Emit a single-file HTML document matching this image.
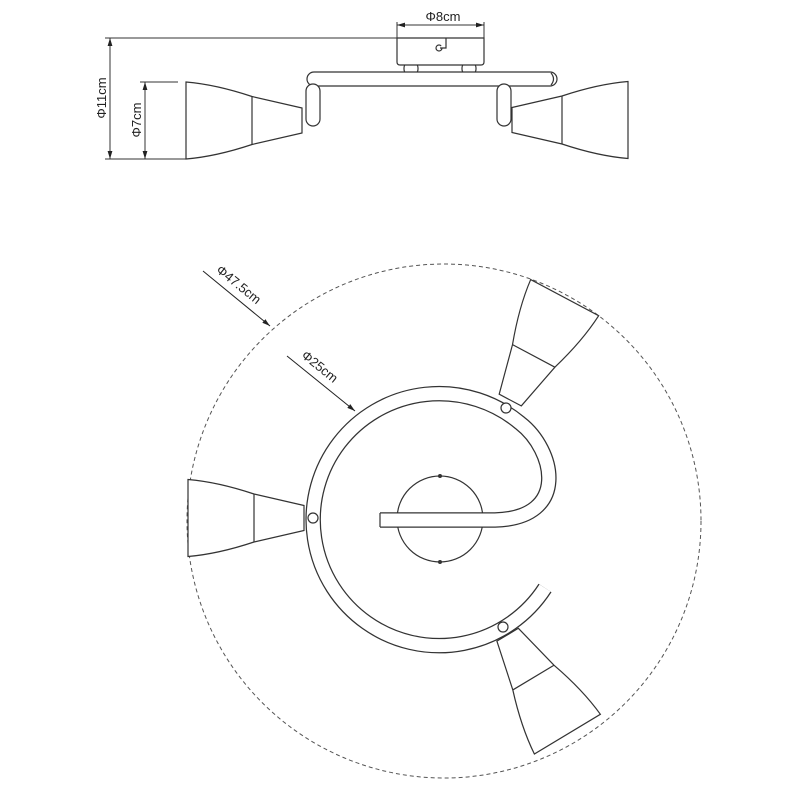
<!DOCTYPE html>
<html><head><meta charset="utf-8"><style>html,body{margin:0;padding:0;background:#fff}svg{display:block}</style></head>
<body>
<svg width="800" height="800" viewBox="0 0 800 800" xmlns="http://www.w3.org/2000/svg" font-family="Liberation Sans, sans-serif">
<defs>
<marker id="ah" viewBox="0 0 10 10" refX="10" refY="5" markerWidth="8" markerHeight="8" orient="auto-start-reverse"><path d="M0,2 L10,5 L0,8 Z" fill="#222"/></marker>
<g id="lamp" fill="#fff" stroke="#333" stroke-width="1.2">
<path d="M -9,-12.5 L -59,-24 Q -95,-36 -125,-38.5 L -125,38.5 Q -95,36 -59,24 L -9,12.5 Z"/>
<line x1="-59" y1="-24" x2="-59" y2="24"/>
</g>
</defs>

<!-- TOP VIEW -->
<g stroke="#333" stroke-width="1" fill="none">
<line x1="105" y1="38" x2="397" y2="38"/>
<line x1="105" y1="159" x2="188" y2="159"/>
<line x1="110" y1="38" x2="110" y2="159" marker-start="url(#ah)" marker-end="url(#ah)"/>
<line x1="140" y1="82" x2="178" y2="82"/>
<line x1="145" y1="82" x2="145" y2="159" marker-start="url(#ah)" marker-end="url(#ah)"/>
<line x1="397" y1="22" x2="397" y2="38"/>
<line x1="484" y1="22" x2="484" y2="38"/>
<line x1="397" y1="25" x2="484" y2="25" marker-start="url(#ah)" marker-end="url(#ah)"/>
</g>
<text x="443" y="21" font-size="13" text-anchor="middle" fill="#222">Φ8cm</text>
<text transform="translate(106,98) rotate(-90)" font-size="13" text-anchor="middle" fill="#222">Φ11cm</text>
<text transform="translate(141,120) rotate(-90)" font-size="13" text-anchor="middle" fill="#222">Φ7cm</text>

<g stroke="#333" stroke-width="1.2" fill="#fff">
<rect x="404" y="62" width="14" height="13" rx="6"/>
<rect x="462" y="62" width="14" height="13" rx="6"/>
<path d="M397,38 H484 V62 Q484,65 481,65 H400 Q397,65 397,62 Z"/>
<circle cx="439" cy="48" r="3"/>
<path d="M440,48 H446 V38"/>
<rect x="307" y="72" width="250" height="14" rx="7"/>
<path d="M551,73 Q556,79 551,85" fill="none"/>
<rect x="306" y="84" width="14" height="42" rx="7"/>
<rect x="497" y="84" width="14" height="42" rx="7"/>
</g>
<use href="#lamp" transform="translate(311,120.5)"/>
<use href="#lamp" transform="translate(503,120) scale(-1,1)"/>

<!-- BOTTOM VIEW -->
<circle cx="444" cy="521" r="257" fill="none" stroke="#555" stroke-width="1" stroke-dasharray="4,3"/>
<g stroke="#222" stroke-width="1" fill="none">
<line x1="203" y1="271" x2="270" y2="326" marker-end="url(#ah)"/>
<line x1="287" y1="356" x2="355" y2="411" marker-end="url(#ah)"/>
</g>
<text transform="translate(236,288) rotate(39)" font-size="13" text-anchor="middle" fill="#222">Φ47.5cm</text>
<text transform="translate(317,370) rotate(39)" font-size="13" text-anchor="middle" fill="#222">Φ25cm</text>

<circle cx="440" cy="519" r="43" fill="#fff" stroke="#333" stroke-width="1.2"/>
<circle cx="440" cy="476" r="2" fill="#333"/>
<circle cx="440" cy="562" r="2" fill="#333"/>

<path d="M545,588 A126,126 0 1 1 520,423 C555,450 570,518 495,520 L380,520" fill="none" stroke="#333" stroke-width="15.5" stroke-linecap="butt"/>
<path d="M545,588 A126,126 0 1 1 520,423 C555,450 570,518 495,520 L380,520" fill="none" stroke="#fff" stroke-width="13"/>
<path d="M380,513 V527" stroke="#333" stroke-width="1.2"/>

<g fill="#fff" stroke="#333" stroke-width="1.2">
<circle cx="313" cy="518" r="5"/>
<circle cx="506" cy="408" r="5"/>
<circle cx="503" cy="627" r="5"/>
</g>
<use href="#lamp" transform="translate(313,518)"/>
<use href="#lamp" transform="translate(506,408) rotate(118)"/>
<use href="#lamp" transform="translate(503,627) rotate(-121)"/>
</svg>
</body></html>
